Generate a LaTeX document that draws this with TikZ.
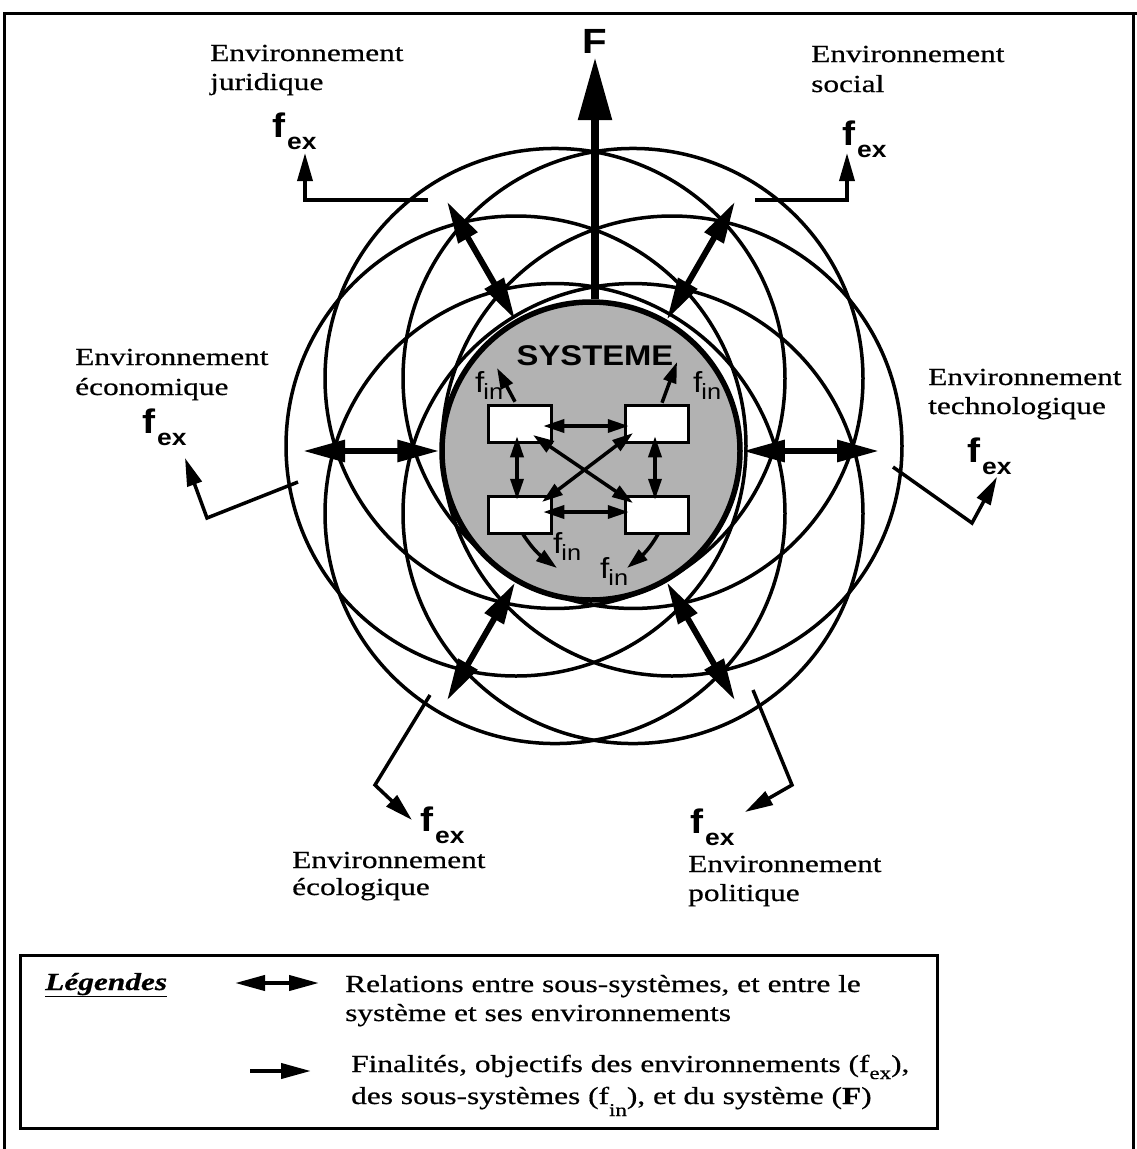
\documentclass[tikz,border=0pt]{standalone}
\usepackage{fontspec}
\setmainfont{Liberation Serif}
\newfontfamily\labelfont[FakeStretch=1.28,FakeBold=0.6]{Liberation Serif}
\newfontfamily\sansfont[FakeStretch=1.15]{Liberation Sans}
\usetikzlibrary{arrows.meta,calc,bending}

\newcommand{\envtext}{\labelfont\fontsize{24.5}{29}\selectfont}
\newcommand{\fexbig}{\sansfont\bfseries\fontsize{34}{34}\selectfont}
\newcommand{\fexsub}{\sansfont\bfseries\fontsize{23}{23}\selectfont}
\newcommand{\fexlab}{{\fexbig f}\kern2pt\raisebox{-12pt}{\fexsub ex}}
\newcommand{\finlab}{{\sansfont\fontsize{29}{29}\selectfont f}\kern-1pt\raisebox{-7pt}{\sansfont\fontsize{22}{22}\selectfont in}}
\newcommand{\subsc}[1]{\raisebox{-7pt}{\fontsize{18}{18}\selectfont #1}}

\begin{document}
\begin{tikzpicture}[x=1pt,y=1pt,
  envcircle/.style={draw, line width=3.5pt},
  sysnode/.style={circle, draw, line width=5.5pt, fill=gray!60, minimum size=298pt, inner sep=0pt},
  subbox/.style={draw, line width=3.5pt, fill=white, minimum width=63pt, minimum height=37pt, inner sep=0pt},
  relarrow/.style={line width=6pt, {Triangle[length=42pt,width=21pt]}-{Triangle[length=42pt,width=21pt]}},
  inarrow/.style={line width=3.5pt, {Triangle[length=21pt,width=13pt]}-{Triangle[length=21pt,width=13pt]}},
  finarrow/.style={line width=3.5pt, -{Triangle[length=21pt,width=13pt]}},
  fexarrow/.style={line width=3.5pt, -{Triangle[length=28pt,width=15pt]}},
  bigF/.style={line width=8.5pt, -{Triangle[length=63pt,width=32pt]}},
  legarrow/.style={line width=4pt, {Triangle[length=30pt,width=15pt]}-{Triangle[length=30pt,width=15pt]}},
  legsingle/.style={line width=4pt, -{Triangle[length=30pt,width=15pt]}},
  envlabel/.style={anchor=base west, inner sep=0pt, font=\envtext},
  txt/.style={anchor=base west, inner sep=0pt}
]
\useasboundingbox (0,0) rectangle (1137,-1149);

% outer frame
\draw[line width=3pt] (4,-1149) -- (4,-13) -- (1137,-13);
\draw[line width=3pt] (1133,-13) -- (1133,-1149);

% six environment circles
\coordinate (C) at (594,-446);
\foreach \a in {0,60,...,300}
  \draw[envcircle] ($(C)+(\a:78)$) circle[radius=230];

% the system
\node[sysnode] (sys) at (591,-451) {};
\node[anchor=base, inner sep=0pt, font=\sansfont\bfseries\fontsize{28.5}{28}\selectfont] (systxt) at (595,-365) {SYSTEME};

% sub-systems
\node[subbox] (b1) at (520,-424) {};
\node[subbox] (b2) at (657,-424) {};
\node[subbox] (b3) at (520,-515) {};
\node[subbox] (b4) at (657,-515) {};

% relations between sub-systems
\draw[inarrow] ([xshift=-10pt,yshift=-2pt]b1.east) -- ([xshift=5pt,yshift=-2pt]b2.west);
\draw[inarrow] ([xshift=-10pt,yshift=3pt]b3.east) -- ([xshift=5pt,yshift=3pt]b4.west);
\draw[inarrow] ([xshift=-3pt,yshift=8pt]b1.south) -- ([xshift=-3pt,yshift=-5pt]b3.north);
\draw[inarrow] ([xshift=-2pt,yshift=8pt]b2.south) -- ([xshift=-2pt,yshift=-5pt]b4.north);
\draw[inarrow] ([shift={(13pt,-11pt)}]b1.center) -- ([shift={(-24pt,12pt)}]b4.center);
\draw[inarrow] ([shift={(-24pt,-9pt)}]b2.center) -- ([shift={(22pt,13pt)}]b3.center);

% finalities of the sub-systems
\node[txt] (fin1) at (475,-392) {\finlab};
\node[txt] (fin2) at (693,-392) {\finlab};
\node[txt] (fin3) at (553,-553) {\finlab};
\node[txt] (fin4) at (600,-578) {\finlab};
\coordinate (t1) at (497,-368);
\coordinate (t2) at (677,-362);
\coordinate (t3) at (557,-568);
\coordinate (t4) at (627,-568);
\draw[finarrow] ([xshift=-5pt,yshift=2pt]b1.north) -- (t1);
\draw[finarrow] ([xshift=5pt,yshift=1pt]b2.north) -- (t2);
\draw[finarrow] ([xshift=3pt,yshift=1pt]b3.south) to[bend right=12] (t3);
\draw[finarrow] ([xshift=1pt,yshift=1pt]b4.south) to[bend left=12] (t4);

% relations between the system and its environments
\foreach \a in {0,60,...,300}
  \draw[relarrow] (sys.\a) -- ($(sys.center)+(\a:288)$);

% finality of the system
\coordinate (ftip) at (595,-57);
\draw[bigF] (ftip |- sys.north) -- (ftip);
\node[anchor=base, inner sep=0pt, font=\sansfont\bfseries\fontsize{35}{35}\selectfont] (Flab) at (595,-53) {F};

% finalities of the environments
\coordinate (jS) at (428,-200); \coordinate (jT) at (305,-153);
\draw[fexarrow] (jS) -- (jT |- jS) -- (jT);
\coordinate (sS) at (755,-200); \coordinate (sT) at (847,-153);
\draw[fexarrow] (sS) -- (sT |- sS) -- (sT);
\coordinate (eS) at (298,-482); \coordinate (eK) at (207,-518); \coordinate (eT) at (185,-458);
\draw[fexarrow] (eS) -- (eK) -- (eT);
\coordinate (tS) at (893,-467); \coordinate (tK) at (972,-523); \coordinate (tT) at (997,-477);
\draw[fexarrow] (tS) -- (tK) -- (tT);
\coordinate (oS) at (430,-695); \coordinate (oK) at (375,-785); \coordinate (oT) at (412,-820);
\draw[fexarrow] (oS) -- (oK) -- (oT);
\coordinate (pS) at (753,-690); \coordinate (pK) at (792,-785); \coordinate (pT) at (745,-812);
\draw[fexarrow] (pS) -- (pK) -- (pT);

\node[txt] (fexJ) at (272,-137) {\fexlab};
\node[txt] (fexS) at (842,-145) {\fexlab};
\node[txt] (fexE) at (142,-433) {\fexlab};
\node[txt] (fexT) at (967,-462) {\fexlab};
\node[txt] (fexO) at (420,-831) {\fexlab};
\node[txt] (fexP) at (690,-833) {\fexlab};

% environment names
\node[envlabel] (jurA) at (210,-61) {Environnement};
\node[envlabel] (jurB) at (210,-90) {juridique};
\node[envlabel] (socA) at (811,-62) {Environnement};
\node[envlabel] (socB) at (811,-92) {social};
\node[envlabel] (ecoA) at (75,-365) {Environnement};
\node[envlabel] (ecoB) at (75,-395) {économique};
\node[envlabel] (tecA) at (928,-385) {Environnement};
\node[envlabel] (tecB) at (928,-414) {technologique};
\node[envlabel] (eclA) at (292,-868) {Environnement};
\node[envlabel] (eclB) at (292,-895) {écologique};
\node[envlabel] (polA) at (688,-872) {Environnement};
\node[envlabel] (polB) at (688,-901) {politique};

% legend
\draw[line width=3pt] (20,-955) rectangle (937,-1128);
\node[envlabel] (legT) at (45,-990) {\bfseries\itshape\underline{Légendes}};
\coordinate (la1) at (235,-983); \coordinate (la2) at (319,-983);
\draw[legarrow] (la1) -- (la2);
\coordinate (lb1) at (250,-1071); \coordinate (lb2) at (311,-1071);
\draw[legsingle] (lb1) -- (lb2);
\node[envlabel] (legA) at (345,-992) {Relations entre sous-systèmes, et entre le};
\node[envlabel] (legB) at (345,-1021) {système et ses environnements};
\node[envlabel] (legC) at (351,-1072) {Finalités, objectifs des environnements (f\subsc{ex}),};
\node[envlabel] (legD) at (351,-1104) {des sous-systèmes (f\raisebox{-12pt}{\fontsize{18}{18}\selectfont in}), et du système (\textbf{F})};
\end{tikzpicture}
\end{document}
